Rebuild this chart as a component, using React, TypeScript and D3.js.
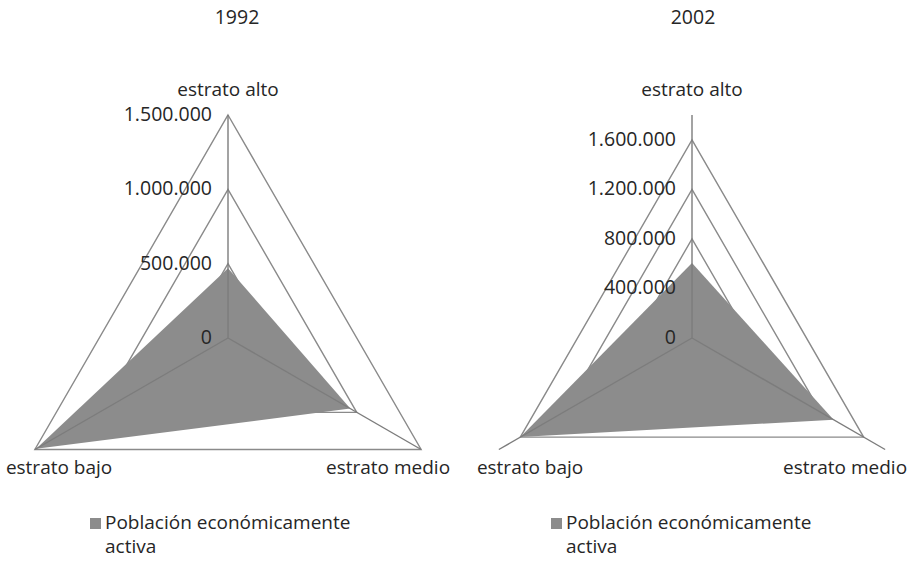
import React from "react";
import * as d3 from "d3";

const categories = ["estrato alto", "estrato medio", "estrato bajo"];
const values1992 = [470000, 950000, 1490000];
const values2002 = [605000, 1320000, 1600000];
const ticks1992 = [0, 500000, 1000000, 1500000];
const ticks2002 = [0, 400000, 800000, 1200000, 1600000];
const axisMax1992 = 1500000;
const axisMax2002 = 1800000;
const titles = ["1992", "2002"];
const seriesName = ["Población económicamente", "activa"];

const locale = d3.formatLocale({ decimal: ",", thousands: ".", grouping: [3], currency: ["$", ""] });
const fmt = locale.format(",d");

const FONT = "'Open Sans', sans-serif";
const TEXT = "#262626";
const GRID = "#8a8a8a";
const SPOKE = "#7c7c7c";
const FILL = "#8c8c8c";

type RadarProps = {
  cx: number;
  cy: number;
  title: string;
  values: number[];
  ticks: number[];
  axisMax: number;
  radiusMax: number;
  legendX: number;
  titleX: number;
  labelPad: number;
};

function Radar({ cx, cy, title, values, ticks, axisMax, radiusMax, legendX, titleX, labelPad }: RadarProps) {
  const r = d3.scaleLinear().domain([0, axisMax]).range([0, radiusMax]);
  const ang = d3.scaleLinear().domain([0, categories.length]).range([0, 2 * Math.PI]);
  const pt = (i: number, v: number): [number, number] => {
    const a = ang(i) - Math.PI / 2;
    return [cx + Math.cos(a) * r(v), cy + Math.sin(a) * r(v)];
  };
  const radial = d3
    .lineRadial<number>()
    .angle((_, i) => ang(i))
    .radius((v) => r(v))
    .curve(d3.curveLinearClosed);
  const gridTicks = ticks.filter((t) => t > 0);
  const topCat = pt(0, axisMax);
  const medio = pt(1, axisMax);
  const bajo = pt(2, axisMax);
  return (
    <g>
      <text x={titleX} y={24} textAnchor="middle" fontSize={19.5} fill={TEXT} fontFamily={FONT}>
        {title}
      </text>
      <g transform={`translate(${cx},${cy})`}>
        {gridTicks.map((t) => (
          <path key={t} d={radial(categories.map(() => t)) || ""} fill="none" stroke={GRID} strokeWidth={1.4} />
        ))}
        <path d={radial(values) || ""} fill={FILL} stroke="none" />
      </g>
      {categories.map((c, i) => {
        const [x, y] = pt(i, axisMax);
        return <line key={c} x1={cx} y1={cy} x2={x} y2={y} stroke={SPOKE} strokeWidth={1.4} />;
      })}
      {ticks.map((t) => (
        <text key={t} x={cx - 16} y={cy - r(t) + 6} textAnchor="end" fontSize={19.5} fill={TEXT} fontFamily={FONT}>
          {fmt(t)}
        </text>
      ))}
      <text x={topCat[0]} y={96} textAnchor="middle" fontSize={19} fill={TEXT} fontFamily={FONT}>
        {categories[0]}
      </text>
      <text x={medio[0] + labelPad} y={474} textAnchor="end" fontSize={19} fill={TEXT} fontFamily={FONT}>
        {categories[1]}
      </text>
      <text x={bajo[0] - labelPad} y={474} textAnchor="start" fontSize={19} fill={TEXT} fontFamily={FONT}>
        {categories[2]}
      </text>
      <rect x={legendX} y={518} width={11} height={11} fill={FILL} />
      <text x={legendX + 15} y={529} fontSize={19} fill={TEXT} fontFamily={FONT}>
        {seriesName[0]}
      </text>
      <text x={legendX + 15} y={553} fontSize={19} fill={TEXT} fontFamily={FONT}>
        {seriesName[1]}
      </text>
    </g>
  );
}

export default function App() {
  return (
    <svg width={918} height={563} style={{ position: "absolute", left: 0, top: 0, background: "#fff" }}>
      <rect width={918} height={563} fill="#fff" />
      <Radar
        cx={228}
        cy={338}
        title={titles[0]}
        values={values1992}
        ticks={ticks1992}
        axisMax={axisMax1992}
        radiusMax={223}
        legendX={90}
        titleX={237}
        labelPad={29}
      />
      <Radar
        cx={692}
        cy={338}
        title={titles[1]}
        values={values2002}
        ticks={ticks2002}
        axisMax={axisMax2002}
        radiusMax={223}
        legendX={551}
        titleX={693}
        labelPad={22}
      />
    </svg>
  );
}
